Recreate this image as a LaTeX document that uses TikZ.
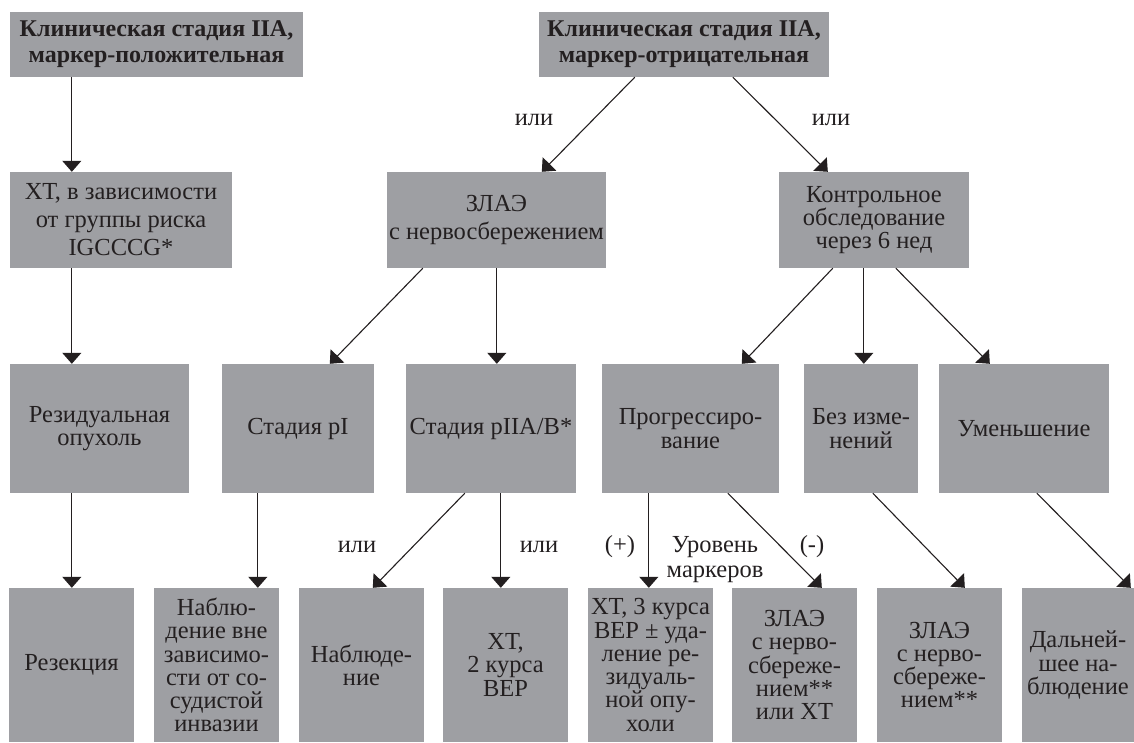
\documentclass[tikz,border=0pt]{standalone}
\usepackage{fontspec}
\setmainfont{Liberation Serif}
\usetikzlibrary{arrows.meta}
\definecolor{boxgray}{RGB}{158,159,163}
\definecolor{ink}{RGB}{35,31,32}
\begin{document}
\begin{tikzpicture}[x=1pt,y=-1pt,
  box/.style={fill=boxgray, inner sep=0pt, align=center, text=ink,
    font=\fontsize{24.5}{23.3}\selectfont},
  boldbox/.style={box, font=\bfseries\fontsize{24}{26}\selectfont},
  widebox/.style={box, font=\fontsize{24.5}{28}\selectfont},
  lbl/.style={inner sep=0pt, text=ink, align=center, font=\fontsize{24.5}{25}\selectfont},
  arr/.style={draw=ink, line width=1.1pt, -{Triangle[length=11pt,width=19pt]}}
]
\useasboundingbox (0,0) rectangle (1134,742);
% row 1
\node[boldbox, minimum width=293pt, minimum height=65pt] (b1) at (156.5,44.5) {Клиническая стадия IIA,\\маркер-положительная};
\node[boldbox, minimum width=290pt, minimum height=65pt] (b2) at (684,44.5) {Клиническая стадия IIA,\\маркер-отрицательная};
% row 2
\node[widebox, minimum width=222pt, minimum height=96pt] (xt) at (121,220) {ХТ, в зависимости\\от группы риска\\IGCCCG*};
\node[widebox, minimum width=219pt, minimum height=96pt] (zlae) at (496.5,220) {ЗЛАЭ\\с нервосбережением};
\node[box, minimum width=190pt, minimum height=96pt] (kont) at (874,220) {Контрольное\\обследование\\через 6 нед};
% row 3
\node[box, minimum width=179pt, minimum height=129pt] (rez) at (99.5,428.5) {Резидуальная\\опухоль};
\node[box, minimum width=152pt, minimum height=129pt] (pI) at (298,428.5) {Стадия pI};
\node[box, minimum width=170pt, minimum height=129pt] (p2) at (491,428.5) {Стадия pIIA/B*};
\node[box, minimum width=177pt, minimum height=129pt] (prog) at (690.5,428.5) {Прогрессиро-\\вание};
\node[box, minimum width=114pt, minimum height=129pt] (bez) at (861,428.5) {Без изме-\\нений};
\node[box, minimum width=170pt, minimum height=129pt] (umen) at (1024,428.5) {Уменьшение};
% row 4
\node[box, minimum width=125pt, minimum height=154pt] (r4a) at (71.5,665) {Резекция};
\node[box, minimum width=125pt, minimum height=154pt] (r4b) at (216.5,665) {Наблю-\\дение вне\\зависимо-\\сти от со-\\судистой\\инвазии};
\node[box, minimum width=125pt, minimum height=154pt] (r4c) at (361.5,665) {Наблюде-\\ние};
\node[box, minimum width=125pt, minimum height=154pt] (r4d) at (505.5,665) {ХТ,\\2 курса\\BEP};
\node[box, minimum width=125pt, minimum height=154pt] (r4e) at (650.5,665) {ХТ, 3 курса\\BEP ± уда-\\ление ре-\\зидуаль-\\ной опу-\\холи};
\node[box, minimum width=125pt, minimum height=154pt] (r4f) at (794.5,665) {ЗЛАЭ\\с нерво-\\сбереже-\\нием**\\или ХТ};
\node[box, minimum width=125pt, minimum height=154pt] (r4g) at (939.5,665) {ЗЛАЭ\\с нерво-\\сбереже-\\нием**};
\node[box, minimum width=112pt, minimum height=154pt] (r4h) at (1078,665) {Дальней-\\шее на-\\блюдение};
% labels
\node[lbl] (or1) at (534,120) {или};
\node[lbl] (or2) at (831,120) {или};
\node[lbl] (or3) at (357,547) {или};
\node[lbl] (or4) at (539,547) {или};
\node[lbl] (plus) at (620,547) {(+)};
\node[lbl] (lvl) at (715,560) {Уровень\\маркеров};
\node[lbl] (minus) at (812,547) {(-)};
% arrows
\draw[arr] ([xshift=62pt]b1.south west) -- ([xshift=62pt]xt.north west);
\draw[arr] ([xshift=62pt]xt.south west) -- ([xshift=62pt]rez.north west);
\draw[arr] ([xshift=62pt]rez.south west) -- ([xshift=63pt]r4a.north west);
\draw[arr] ([xshift=96pt]b2.south west) -- ([xshift=155pt]zlae.north west);
\draw[arr] ([xshift=194pt]b2.south west) -- ([xshift=49pt]kont.north west);
\draw[arr] ([xshift=36pt]zlae.south west) -- ([xshift=108pt]pI.north west);
\draw[arr] ([xshift=110pt]zlae.south west) -- ([xshift=91pt]p2.north west);
\draw[arr] ([xshift=54pt]kont.south west) -- ([xshift=140pt]prog.north west);
\draw[arr] ([xshift=85pt]kont.south west) -- ([xshift=60pt]bez.north west);
\draw[arr] ([xshift=117pt]kont.south west) -- ([xshift=51pt]umen.north west);
\draw[arr] ([xshift=36pt]pI.south west) -- ([xshift=104pt]r4b.north west);
\draw[arr] ([xshift=59pt]p2.south west) -- ([xshift=74pt]r4c.north west);
\draw[arr] ([xshift=95pt]p2.south west) -- ([xshift=58pt]r4d.north west);
\draw[arr] ([xshift=47pt]prog.south west) -- ([xshift=61pt]r4e.north west);
\draw[arr] ([xshift=126pt]prog.south west) -- ([xshift=90pt]r4f.north west);
\draw[arr] ([xshift=69pt]bez.south west) -- ([xshift=88pt]r4g.north west);
\draw[arr] ([xshift=98pt]umen.south west) -- ([xshift=109pt]r4h.north west);
\end{tikzpicture}
\end{document}
